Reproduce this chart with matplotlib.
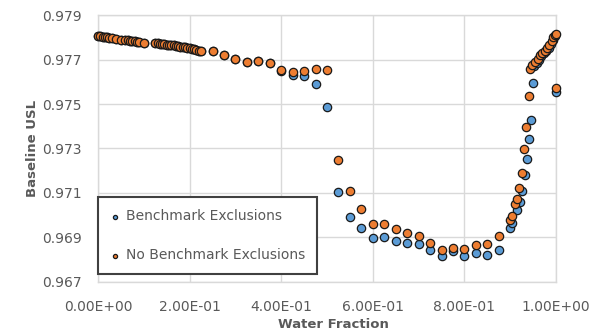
import matplotlib
matplotlib.use("Agg")
import matplotlib.pyplot as plt
from matplotlib.ticker import FixedLocator, FixedFormatter

# ---------------- data ----------------
water_fraction_orange = [
    0.000, 0.005, 0.010, 0.015, 0.020, 0.025, 0.030, 0.040, 0.050, 0.060,
    0.065, 0.070, 0.075, 0.080, 0.085, 0.090, 0.100,
    0.125, 0.130, 0.135, 0.140, 0.145, 0.150, 0.155, 0.160, 0.165, 0.170,
    0.175, 0.180, 0.185, 0.190, 0.195, 0.200, 0.205, 0.210, 0.215, 0.220, 0.225,
    0.250, 0.275, 0.300, 0.325, 0.350, 0.375, 0.400, 0.425, 0.450, 0.475,
    0.500, 0.525, 0.550, 0.575, 0.600, 0.625, 0.650, 0.675, 0.700, 0.725,
    0.750, 0.775, 0.800, 0.825, 0.850, 0.875, 0.900,
    0.905, 0.910, 0.915, 0.920, 0.925, 0.930, 0.935, 0.940,
    0.943, 0.948, 0.954, 0.960, 0.965, 0.970, 0.976, 0.981, 0.985, 0.991,
    0.994, 0.998, 0.999, 1.000,
]
usl_orange = [
    0.97806, 0.97805, 0.97803, 0.97801, 0.97800, 0.97797, 0.97796, 0.97793, 0.97790, 0.97790,
    0.97787, 0.97786, 0.97785, 0.97782, 0.97781, 0.97779, 0.97777,
    0.97774, 0.97773, 0.97772, 0.97771, 0.97770, 0.97768, 0.97767, 0.97765, 0.97764, 0.97762,
    0.97760, 0.97758, 0.97757, 0.97755, 0.97753, 0.97751, 0.97749, 0.97746, 0.97744, 0.97741, 0.97739,
    0.97737, 0.97721, 0.97703, 0.97689, 0.97694, 0.97685, 0.97652, 0.97645, 0.97649, 0.97656,
    0.97652, 0.97249, 0.97108, 0.97028, 0.96960, 0.96960, 0.96937, 0.96918, 0.96907, 0.96873,
    0.96843, 0.96853, 0.96847, 0.96865, 0.96870, 0.96907, 0.96976,
    0.96996, 0.97048, 0.97071, 0.97123, 0.97189, 0.97298, 0.97397, 0.97535,
    0.97660, 0.97674, 0.97689, 0.97704, 0.97719, 0.97729, 0.97741, 0.97753, 0.97768, 0.97786,
    0.97801, 0.97813, 0.97816, 0.97572,
]

water_fraction_blue = [
    0.000, 0.005, 0.010, 0.015, 0.020, 0.025, 0.030, 0.040, 0.050, 0.060,
    0.065, 0.070, 0.075, 0.080, 0.085, 0.090, 0.100,
    0.125, 0.130, 0.135, 0.140, 0.145, 0.150, 0.155, 0.160, 0.165, 0.170,
    0.175, 0.180, 0.185, 0.190, 0.195, 0.200, 0.205, 0.210, 0.215, 0.220, 0.225,
    0.250, 0.275, 0.300, 0.325, 0.350, 0.375, 0.400, 0.425, 0.450, 0.475,
    0.500, 0.525, 0.550, 0.575, 0.600, 0.625, 0.650, 0.675, 0.700, 0.725,
    0.750, 0.775, 0.800, 0.825, 0.850, 0.875, 0.900,
    0.905, 0.915, 0.921, 0.926, 0.932, 0.937, 0.940, 0.945, 0.949,
    0.953, 0.958, 0.963, 0.968, 0.974, 0.979, 0.984, 0.990, 0.994, 0.998, 1.000,
]
usl_blue = [
    0.97806, 0.97805, 0.97803, 0.97801, 0.97800, 0.97797, 0.97796, 0.97793, 0.97790, 0.97790,
    0.97787, 0.97786, 0.97785, 0.97782, 0.97781, 0.97779, 0.97777,
    0.97774, 0.97773, 0.97772, 0.97771, 0.97770, 0.97768, 0.97767, 0.97765, 0.97764, 0.97762,
    0.97760, 0.97758, 0.97757, 0.97755, 0.97753, 0.97751, 0.97749, 0.97746, 0.97744, 0.97741, 0.97739,
    0.97737, 0.97721, 0.97703, 0.97689, 0.97694, 0.97685, 0.97647, 0.97631, 0.97625, 0.97590,
    0.97486, 0.97105, 0.96990, 0.96943, 0.96896, 0.96903, 0.96883, 0.96875, 0.96868, 0.96843,
    0.96817, 0.96838, 0.96817, 0.96831, 0.96820, 0.96843, 0.96940,
    0.96966, 0.97022, 0.97060, 0.97110, 0.97182, 0.97251, 0.97342, 0.97428, 0.97595,
    0.97670, 0.97685, 0.97700, 0.97715, 0.97728, 0.97740, 0.97752, 0.97770, 0.97788, 0.97808, 0.97554,
]

series_labels = ["Benchmark Exclusions", "No Benchmark Exclusions"]
x_ticks = [0.0, 0.2, 0.4, 0.6, 0.8, 1.0]
x_tick_labels = ["0.00E+00", "2.00E-01", "4.00E-01", "6.00E-01", "8.00E-01", "1.00E+00"]
y_ticks = [0.967, 0.969, 0.971, 0.973, 0.975, 0.977, 0.979]
y_tick_labels = ["0.967", "0.969", "0.971", "0.973", "0.975", "0.977", "0.979"]

# ---------------- styling ----------------
plt.rcParams["font.family"] = ["DejaVu Sans"]
BLUE = "#5B9BD5"
ORANGE = "#ED7D31"
EDGE = "#1a1a1a"
GRID = "#d9d9d9"
TXT = "#595959"

W, H = 607, 335
fig = plt.figure(figsize=(W / 100, H / 100), dpi=100)
L, R, T, B = 98, 556, 15.2, 281.7
ax = fig.add_axes([L / W, 1 - B / H, (R - L) / W, (B - T) / H])

ax.scatter(water_fraction_blue, usl_blue, s=36, c=BLUE, edgecolors=EDGE,
           linewidths=0.9, zorder=3, label=series_labels[0], clip_on=False)
ax.scatter(water_fraction_orange, usl_orange, s=36, c=ORANGE, edgecolors=EDGE,
           linewidths=0.9, zorder=4, label=series_labels[1], clip_on=False)

ax.set_xlim(0, 1.0)
ax.set_ylim(0.967, 0.979)
ax.xaxis.set_major_locator(FixedLocator(x_ticks))
ax.xaxis.set_major_formatter(FixedFormatter(x_tick_labels))
ax.yaxis.set_major_locator(FixedLocator(y_ticks))
ax.yaxis.set_major_formatter(FixedFormatter(y_tick_labels))

ax.grid(True, color=GRID, linewidth=1.0, zorder=0)
ax.set_axisbelow(True)
for sp in ax.spines.values():
    sp.set_color(GRID)
    sp.set_linewidth(1.0)

ax.tick_params(axis="x", length=0, pad=13.5, labelsize=10, labelcolor=TXT)
ax.tick_params(axis="y", length=0, pad=11.5, labelsize=10, labelcolor=TXT)

ax.set_xlabel("Water Fraction", fontsize=9.5, fontweight="bold", color=TXT)
ax.set_ylabel("Baseline USL", fontsize=9.5, fontweight="bold", color=TXT)
ax.xaxis.set_label_coords(0.513, -0.136)
ax.yaxis.set_label_coords(-0.128, 0.5)

leg = ax.legend(loc="lower left", bbox_to_anchor=(0, 0.0278), borderaxespad=0,
                fontsize=10, markerscale=0.5, handlelength=0.72,
                handletextpad=0.43, borderpad=0.86, labelspacing=1.8,
                frameon=True, fancybox=False, framealpha=1, edgecolor="#404040",
                labelcolor=TXT)
leg.get_frame().set_linewidth(1.5)
leg.set_zorder(10)

fig.savefig("out.png", dpi=100)
